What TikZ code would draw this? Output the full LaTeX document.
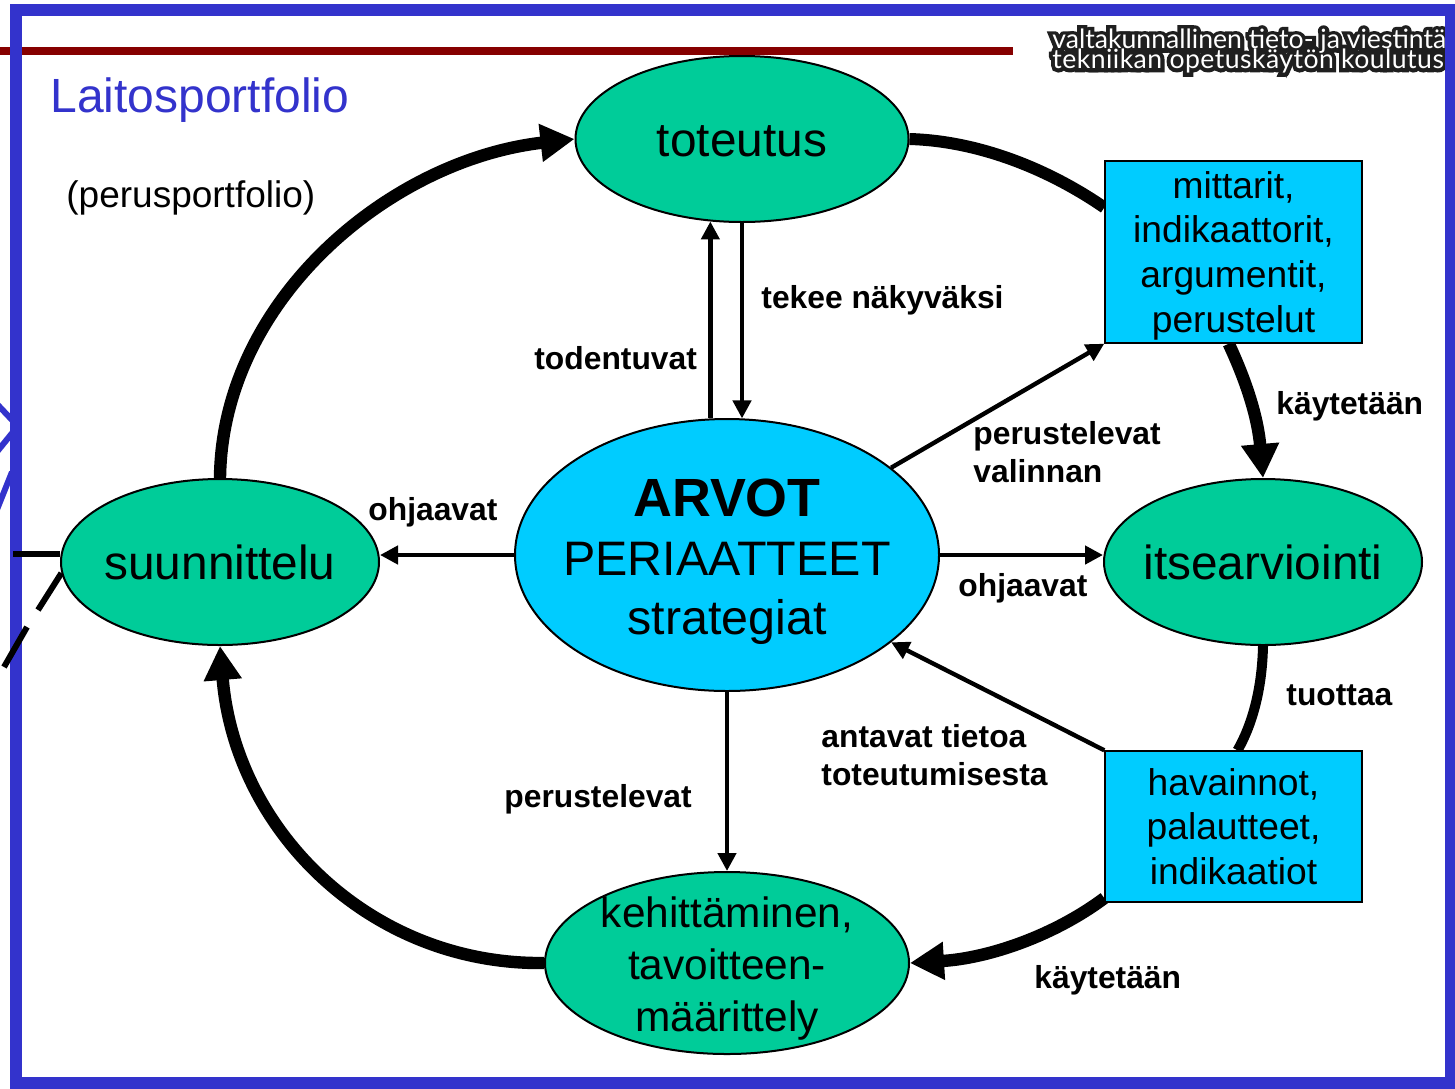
\documentclass[tikz,border=0pt]{standalone}
\usepackage{fontspec}
\setmainfont{Liberation Sans}
\newfontfamily\logofont{Lato}
\usetikzlibrary{shapes.geometric,arrows.meta}
\definecolor{frameblue}{RGB}{51,51,204}
\definecolor{ovalgreen}{RGB}{0,204,153}
\definecolor{boxblue}{RGB}{0,204,255}
\definecolor{barred}{RGB}{134,0,0}
\pgfdeclarelayer{under}
\pgfdeclarelayer{links}
\pgfsetlayers{under,links,main}
\tikzset{
  x=0.5pt,y=-0.5pt,
  oval/.style={draw=black,line width=1pt,fill=ovalgreen,ellipse,inner sep=-12pt,align=center,font=\fontsize{23.9}{26}\selectfont},
  box/.style={draw=black,line width=.7pt,fill=boxblue,inner sep=0pt,align=center,font=\fontsize{18.6}{22.3}\selectfont,minimum width=128.5pt},
  thin/.style={line width=2.2pt,-{Triangle[length=9pt,width=9pt]}},
  heavy/.style={line width=6.2pt,-{Triangle[length=17pt,width=18pt]}},
  heavyplain/.style={line width=6pt},
  lab/.style={font=\fontsize{15.9}{18.8}\selectfont\bfseries,inner sep=0pt,align=left,anchor=west},
  ray/.style={frameblue,line width=3pt},
  stub/.style={line width=3pt,black},
  logotext/.style={inner sep=0pt,anchor=west,align=left,text=white,font=\logofont\fontsize{13.3}{10}\selectfont}
}
\begin{document}
\begin{tikzpicture}
\useasboundingbox (0,0) rectangle (1455,1088);
% nodes
\node[oval,minimum width=166.5pt,minimum height=83pt] (tot) at (742,139) {\rule{0pt}{18pt}toteutus};
\node[oval,minimum width=159pt,minimum height=83pt] (suun) at (220,562) {suunnittelu};
\node[oval,minimum width=159pt,minimum height=83pt] (its) at (1263,562) {itsearviointi};
\node[oval,minimum width=182pt,minimum height=91pt,font=\fontsize{21.2}{26}\selectfont] (keh) at (727,963) {\rule{0pt}{21pt}kehittäminen,\\tavoitteen-\\määrittely};
\node[box,minimum height=91pt] (mit) at (1233.5,252) {\rule{0pt}{17pt}mittarit,\\indikaattorit,\\argumentit,\\perustelut};
\node[box,minimum height=75.5pt] (hav) at (1233.5,826.5) {havainnot,\\palautteet,\\indikaatiot};
\node[draw=black,line width=1pt,fill=boxblue,ellipse,inner sep=-16pt,align=center,minimum width=212pt,minimum height=136pt,font=\fontsize{24.2}{29.5}\selectfont] (arv) at (727,555) {\rule{0pt}{26pt}{\fontsize{26.9}{29.5}\selectfont\bfseries ARVOT}\\PERIAATTEET\\strategiat};
% labels
\node[font=\fontsize{24}{28}\selectfont,text=frameblue,inner sep=0pt,anchor=west] (t1) at (50,100) {Laitosportfolio};
\node[font=\fontsize{18.5}{22}\selectfont,inner sep=0pt,anchor=west] (t2) at (66,198) {(perusportfolio)};
\node[lab] (l1) at (761,300) {tekee näkyväksi};
\node[lab] (l2) at (534,358) {todentuvat};
\node[lab] (l3) at (368,512) {ohjaavat};
\node[lab] (l4) at (973,452) {perustelevat\\valinnan};
\node[lab] (l5) at (958,588) {ohjaavat};
\node[lab] (l6) at (1276,406) {käytetään};
\node[lab] (l7) at (1286,695) {tuottaa};
\node[lab] (l8) at (821,755) {antavat tietoa\\toteutumisesta};
\node[lab] (l9) at (504,799) {perustelevat};
\node[lab] (l10) at (1034,980) {käytetään};
\begin{pgfonlayer}{under}
  \fill[white] (0,0) rectangle (1455,1088);
  \coordinate (barL) at (0,51); \coordinate (barR) at (1013,51);
  \draw[barred,line width=4pt] (barL) -- (barR);
  \coordinate (r1) at (-4,403); \coordinate (r2) at (-4,453); \coordinate (r3) at (-4,512);
  \coordinate (r1e) at (13,421); \coordinate (r2e) at (13,432); \coordinate (r3e) at (12,472);
  \draw[ray] (r1) -- (r1e);
  \draw[ray] (r2) -- (r2e);
  \draw[ray] (r3) -- (r3e);
  % logo, its right end runs under the frame
  \node[logotext] (logoback) at (1052,51)
   {\special{pdf:code q 1 Tr 4 w 0.12 0.12 0.12 RG}valtakunnallinen tieto- ja viestintä\\[-3.5pt]{\addfontfeature{LetterSpace=1.7}tekniikan opetuskäytön koulutus}\special{pdf:code Q}};
  \node[logotext] (logo) at (1052,51)
   {valtakunnallinen tieto- ja viestintä\\[-3.5pt]{\addfontfeature{LetterSpace=1.7}tekniikan opetuskäytön koulutus}};
  \draw[frameblue,line width=6pt] (16,10) rectangle (1451,1083);
\end{pgfonlayer}
\begin{pgfonlayer}{links}
  % heavy cycle
  \draw[heavy] (suun.north) .. controls (222,300) and (390,160) .. (tot.west);
  \draw[heavyplain] (tot.east) .. controls (980,141) and (1050,170) .. (mit.161.9);
  \draw[heavy] (mit.267.8) .. controls (1248,385) and (1258,420) .. (its.north);
  \draw[line width=5pt] (its.south) .. controls (1262,690) and (1252,725) .. (hav.87.3);
  \draw[heavy] (hav.209.8) .. controls (1055,935) and (990,958) .. (keh.east);
  \draw[heavy] (keh.west) .. controls (370,965) and (235,830) .. (suun.south);
  % thin connectors
  \draw[thin] (tot.249 |- arv.96.7) -- (tot.249);
  \draw[thin] (tot.south) -- (tot.south |- arv.83.7);
  \draw[thin] (arv.west) -- (arv.west -| suun.east);
  \draw[thin] (arv.east) -- (arv.east -| its.west);
  \draw[thin] (arv.south) -- (keh.north);
  \draw[thin] (arv.28.7) -- (mit.south west);
  \draw[thin] (hav.north west) -- (arv.-28.5);
  % stubs
  \coordinate (s0) at (13,554);
  \coordinate (d1) at (38,610);
  \coordinate (d2) at (27,627);
  \coordinate (d3) at (4,667);
  \draw[stub] (s0) -- (s0 -| suun.west);
  \draw[stub] (suun.184) -- (d1);
  \draw[stub] (d2) -- (d3);
\end{pgfonlayer}
\end{tikzpicture}
\end{document}
